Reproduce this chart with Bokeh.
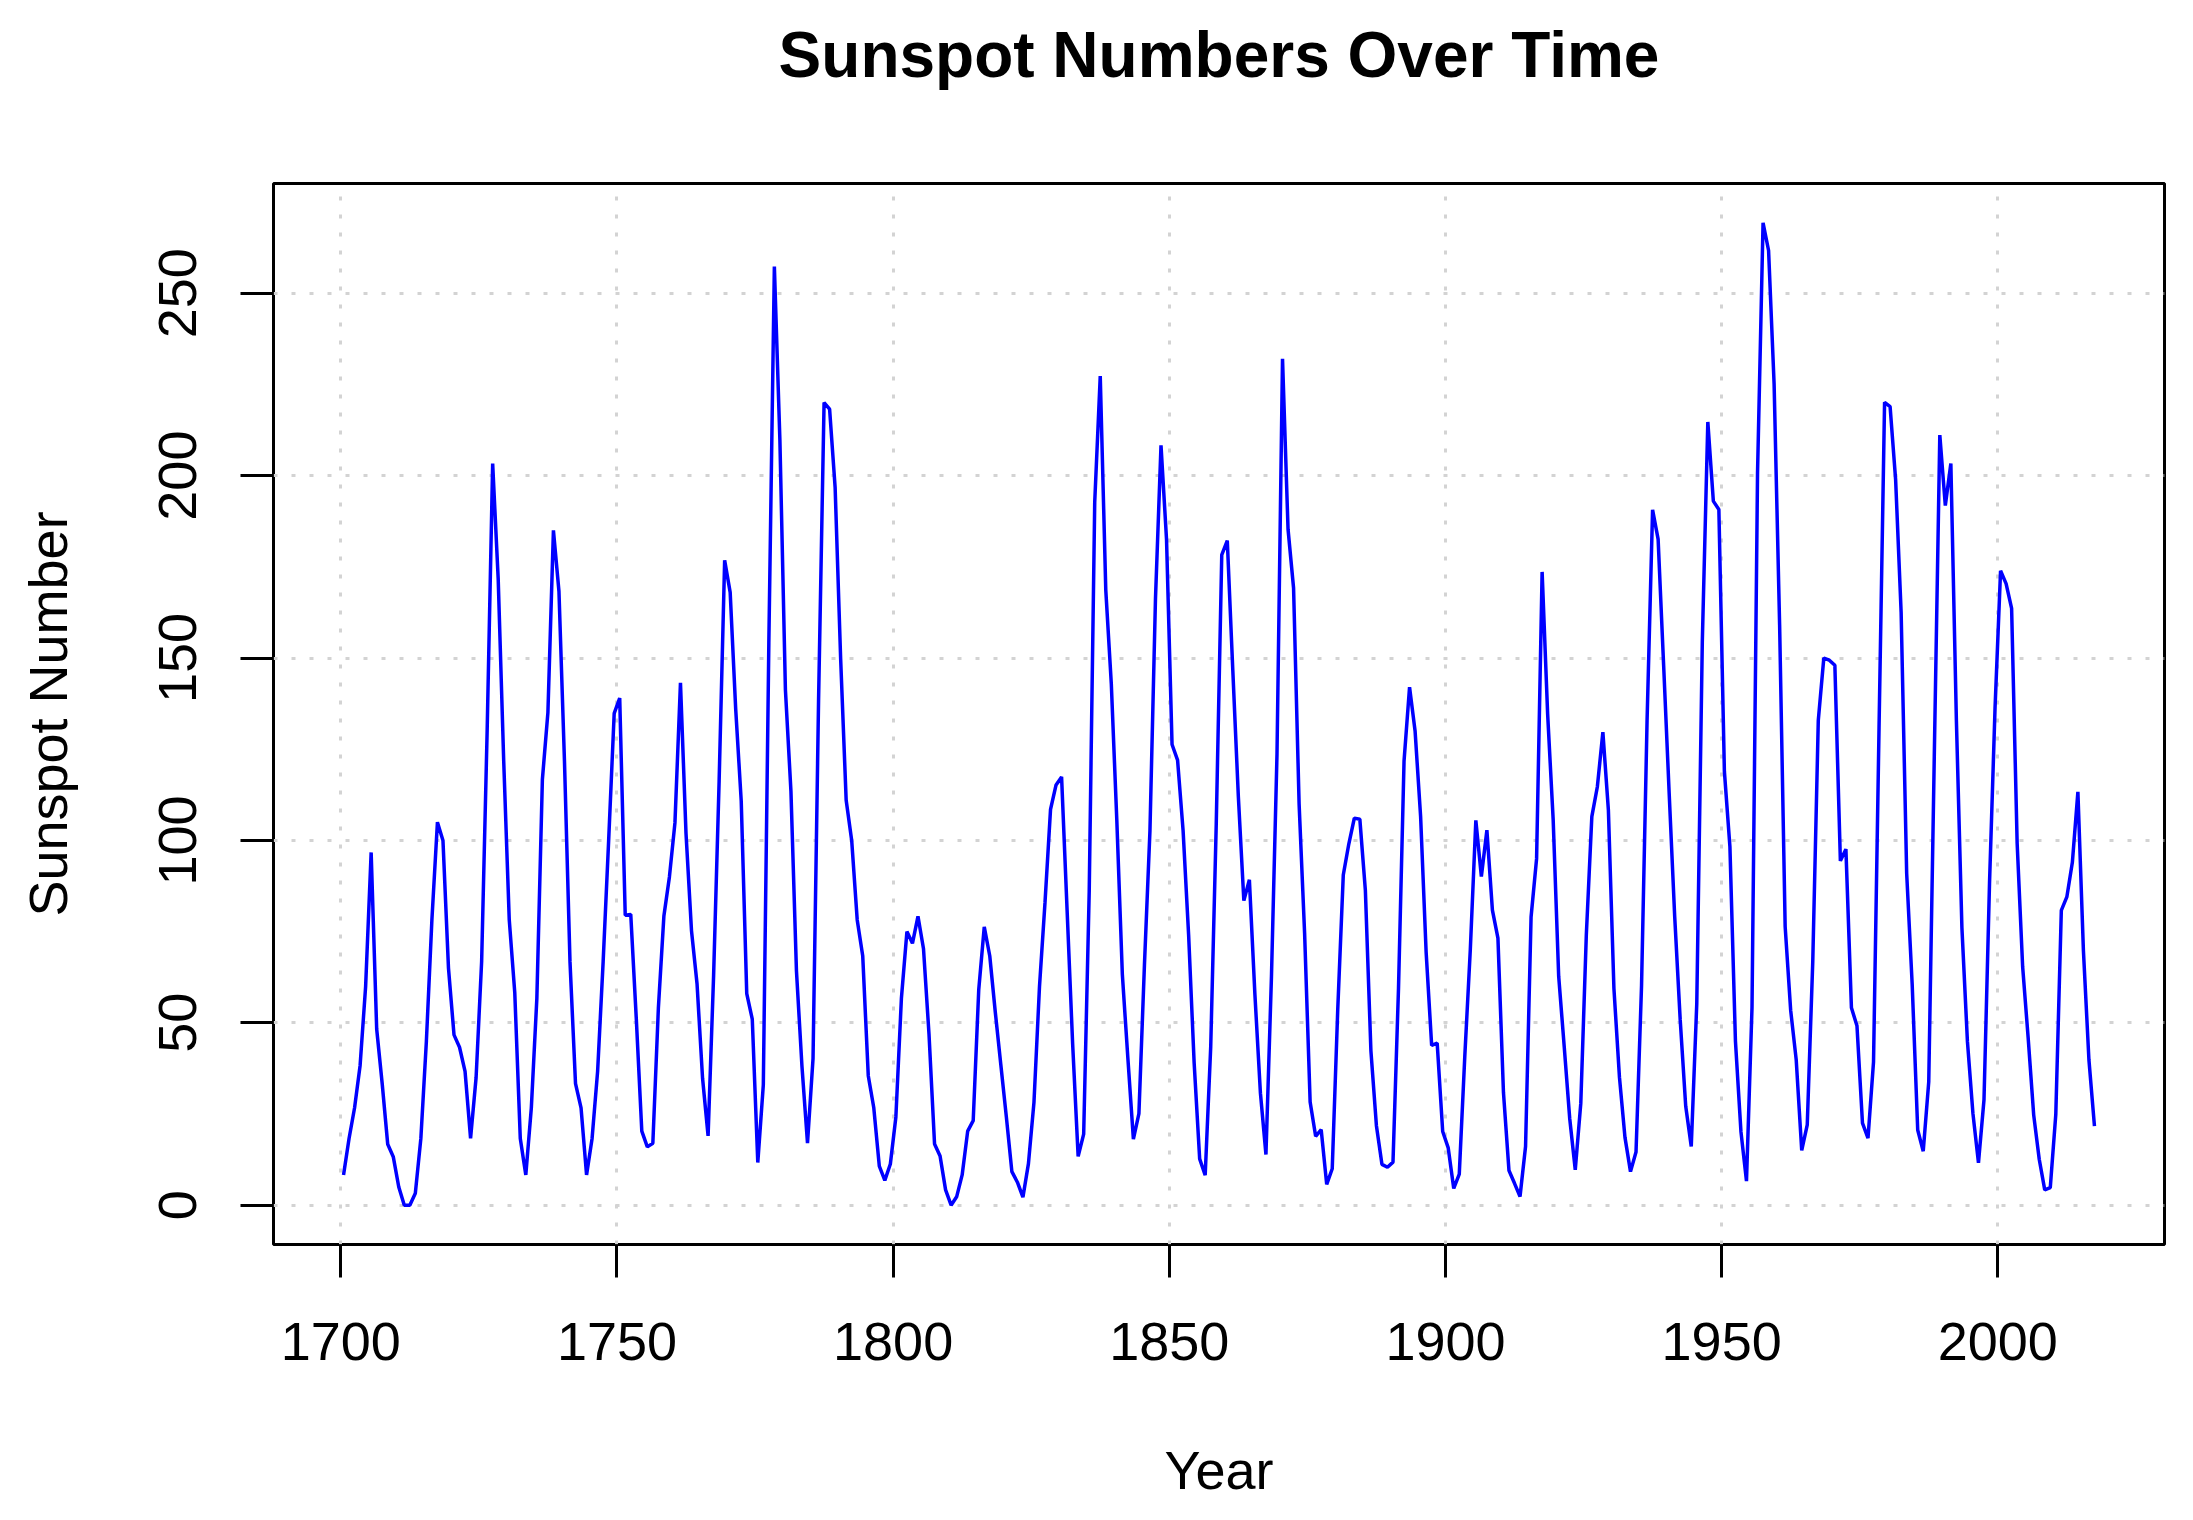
from bokeh.plotting import figure
from bokeh.models import Range1d, FixedTicker, LinearAxis
from bokeh.embed import file_html
from bokeh.resources import INLINE

# ---- data (yearly mean sunspot number, 1700-2017) ----
years = list(range(1700, 2018))
sunspots = [
    8.3, 18.3, 26.7, 38.3, 60.0, 96.7, 48.3, 33.3, 16.7, 13.3,
    5.0, 0.0, 0.0, 3.3, 18.3, 45.0, 78.3, 105.0, 100.0, 65.0,
    46.7, 43.3, 36.7, 18.3, 35.0, 66.7, 130.0, 203.3, 171.7, 121.7,
    78.3, 58.3, 18.3, 8.3, 26.7, 56.7, 116.7, 135.0, 185.0, 168.3,
    121.7, 66.7, 33.3, 26.7, 8.3, 18.3, 36.7, 66.7, 100.0, 134.8,
    139.0, 79.5, 79.7, 51.2, 20.3, 16.0, 17.0, 54.0, 79.3, 90.0,
    104.8, 143.2, 102.0, 75.2, 60.7, 34.8, 19.0, 63.0, 116.3, 176.8,
    168.0, 136.0, 110.8, 58.0, 51.0, 11.7, 33.0, 154.2, 257.3, 209.8,
    141.3, 113.5, 64.2, 38.0, 17.0, 40.2, 138.2, 220.0, 218.2, 196.8,
    149.8, 111.0, 100.0, 78.2, 68.3, 35.5, 26.7, 10.7, 6.8, 11.3,
    24.2, 56.7, 75.0, 71.8, 79.2, 70.3, 46.8, 16.8, 13.5, 4.2,
    0.0, 2.3, 8.3, 20.3, 23.2, 59.0, 76.3, 68.3, 52.9, 38.5,
    24.2, 9.2, 6.3, 2.2, 11.4, 28.2, 59.9, 83.0, 108.5, 115.2,
    117.4, 80.8, 44.3, 13.4, 19.5, 85.8, 192.7, 227.3, 168.7, 143.0,
    105.5, 63.3, 40.3, 18.1, 25.1, 65.8, 102.7, 166.3, 208.3, 182.5,
    126.3, 122.0, 102.7, 74.1, 39.0, 12.7, 8.2, 43.4, 104.4, 178.3,
    182.2, 146.6, 112.1, 83.5, 89.2, 57.8, 30.7, 13.9, 62.8, 123.6,
    232.0, 185.3, 169.2, 110.1, 74.5, 28.3, 18.9, 20.7, 5.7, 10.0,
    53.7, 90.5, 99.0, 106.1, 105.8, 86.3, 42.4, 21.8, 11.2, 10.4,
    11.8, 59.5, 121.7, 142.0, 130.0, 106.6, 69.4, 43.8, 44.4, 20.2,
    15.7, 4.6, 8.5, 40.8, 70.1, 105.5, 90.1, 102.8, 80.9, 73.2,
    30.9, 9.5, 6.0, 2.4, 16.1, 79.0, 95.0, 173.6, 134.6, 105.7,
    62.7, 43.5, 23.7, 9.7, 27.9, 74.0, 106.5, 114.7, 129.7, 108.2,
    59.4, 35.1, 18.6, 9.2, 14.6, 60.2, 132.8, 190.6, 182.6, 148.0,
    113.0, 79.2, 50.8, 27.1, 16.1, 55.3, 154.3, 214.7, 193.0, 190.7,
    118.9, 98.3, 45.0, 20.1, 6.6, 54.2, 200.7, 269.3, 261.7, 225.1,
    159.0, 76.4, 53.4, 39.9, 15.0, 22.0, 66.8, 132.9, 150.0, 149.4,
    148.0, 94.4, 97.6, 54.1, 49.2, 22.5, 18.4, 39.3, 131.0, 220.1,
    218.9, 198.9, 162.4, 91.0, 60.5, 20.6, 14.8, 33.9, 123.0, 211.1,
    191.8, 203.3, 133.0, 76.1, 44.9, 25.1, 11.6, 28.9, 88.3, 136.3,
    173.9, 170.4, 163.6, 99.3, 65.3, 45.8, 24.7, 12.6, 4.2, 4.8,
    24.9, 80.8, 84.5, 94.0, 113.3, 69.8, 39.8, 21.7,
]
x_ticks = [1700, 1750, 1800, 1850, 1900, 1950, 2000]
y_ticks = [0, 50, 100, 150, 200, 250]
title_text = "Sunspot Numbers Over Time"
x_label = "Year"
y_label = "Sunspot Number"

# mid-year positions
xs = [y + 0.5 for y in years]
xmin, xmax = min(xs), max(xs)
ymin, ymax = min(sunspots), max(sunspots)
x0, x1 = xmin - 0.04 * (xmax - xmin), xmax + 0.04 * (xmax - xmin)
y0, y1 = ymin - 0.04 * (ymax - ymin), ymax + 0.04 * (ymax - ymin)

FONT = "Liberation Sans"
W, H = 2177, 1512
BL, BR, BT, BB = 273, 13, 183, 268

p = figure(width=W, height=H, output_backend="svg", toolbar_location=None,
           x_range=Range1d(x0, x1), y_range=Range1d(y0, y1),
           min_border_left=BL, min_border_right=BR,
           min_border_top=BT, min_border_bottom=BB)
p.title.text = ""
p.title.visible = False

xt = FixedTicker(ticks=x_ticks)
yt = FixedTicker(ticks=y_ticks)
p.xaxis.ticker = xt
p.yaxis.ticker = yt
p.xgrid.ticker = xt
p.ygrid.ticker = yt

for ax in (p.xaxis, p.yaxis):
    ax.axis_line_color = None
    ax.major_tick_out = 33
    ax.major_tick_in = 0
    ax.minor_tick_out = 0
    ax.minor_tick_in = 0
    ax.major_tick_line_color = "black"
    ax.major_tick_line_width = 3
    ax.major_label_text_font = FONT
    ax.major_label_text_font_size = "54px"
    ax.major_label_text_color = "black"
    ax.axis_label_text_font = FONT
    ax.axis_label_text_font_size = "54px"
    ax.axis_label_text_font_style = "normal"
    ax.axis_label_text_color = "black"

p.xaxis.axis_label = x_label
p.yaxis.axis_label = y_label
p.xaxis.major_label_standoff = 45
p.xaxis.axis_label_standoff = 77
p.yaxis.major_label_orientation = "vertical"
p.yaxis.major_label_standoff = 44
p.yaxis.axis_label_standoff = 79

# title drawn as the label of a bare axis above the frame
top = LinearAxis(ticker=FixedTicker(ticks=[]), axis_line_color=None,
                 major_tick_out=0, major_tick_in=0, minor_tick_out=0, minor_tick_in=0,
                 major_label_standoff=0, major_label_text_font_size="0px",
                 axis_label=title_text, axis_label_standoff=93,
                 axis_label_text_font=FONT, axis_label_text_font_size="64px",
                 axis_label_text_font_style="bold", axis_label_text_color="black")
p.add_layout(top, "above")

for g in (p.xgrid, p.ygrid):
    g.grid_line_color = "#D3D3D3"
    g.grid_line_dash = "4 14"
    g.grid_line_width = 3

p.outline_line_color = "black"
p.outline_line_width = 3
p.background_fill_color = "white"
p.border_fill_color = "white"

p.line(xs, sunspots, line_color="#0000FF", line_width=3.5)

open("out.html", "w").write(file_html(p, INLINE))
